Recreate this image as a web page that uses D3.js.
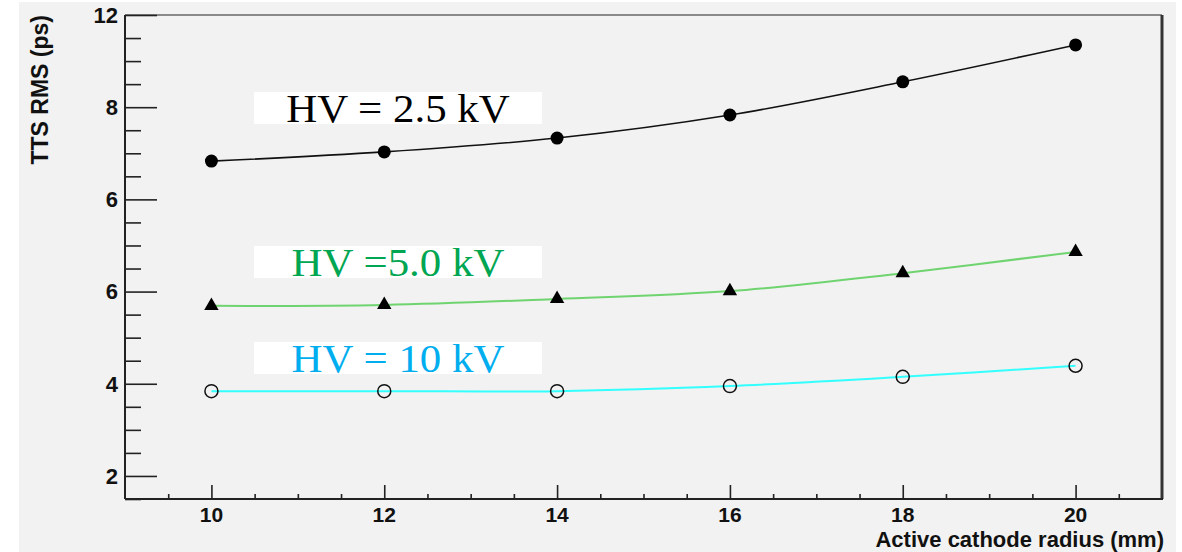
<!DOCTYPE html>
<html><head><meta charset="utf-8">
<script src="https://cdn.jsdelivr.net/npm/d3@7/dist/d3.min.js"></script>
<style>html,body{margin:0;padding:0;background:#fff;}svg{display:block;}</style>
</head><body>
<svg id="chart" width="1182" height="552"></svg>
<script>
const radius = [10, 12, 14, 16, 18, 20];
const hv25 = [8.83, 9.03, 9.33, 9.83, 10.55, 11.35];
const hv50 = [5.69, 5.71, 5.84, 6.01, 6.40, 6.86];
const hv10 = [3.84, 3.84, 3.84, 3.95, 4.15, 4.39];
const seriesNames = ["HV = 2.5 kV", "HV =5.0 kV", "HV = 10 kV"];
const xTickValues = [10, 12, 14, 16, 18, 20];
const xTickLabels = ["10", "12", "14", "16", "18", "20"];
const yTickValues = [2, 4, 6, 8, 10, 12];
const yTickLabels = ["2", "4", "6", "6", "8", "12"];
const xTitle = "Active cathode radius (mm)";
const yTitle = "TTS RMS (ps)";

const svg = d3.select("#chart");
const L = 125, R = 1162, T = 15, B = 499;
const x = d3.scaleLinear().domain([9, 21]).range([L, R]);
const y = d3.scaleLinear().domain([1.5, 12]).range([B, T]);

// background panel
svg.append("rect").attr("x", 19).attr("y", 2).attr("width", 1157).attr("height", 550).attr("fill", "#f2f2f2");

// frame
svg.append("line").attr("x1", L).attr("x2", R).attr("y1", T).attr("y2", T).attr("stroke", "#8a8a8a").attr("stroke-width", 2);
svg.append("line").attr("x1", R).attr("x2", R).attr("y1", T).attr("y2", B).attr("stroke", "#333").attr("stroke-width", 3);

const font = "'Liberation Sans', Arial, Helvetica, sans-serif";

// y axis
const yMinor = d3.range(1.5, 12.01, 0.5).filter(v => !yTickValues.includes(v));
const yAxisMinor = d3.axisRight(y).tickValues(yMinor).tickSize(16).tickFormat("");
const yAxisMajor = d3.axisRight(y).tickValues(yTickValues).tickSize(32).tickFormat("");
const gyMin = svg.append("g").attr("transform", `translate(${L},0)`).call(yAxisMinor);
const gyMaj = svg.append("g").attr("transform", `translate(${L},0)`).call(yAxisMajor);
[gyMin, gyMaj].forEach(g => {
  g.select(".domain").remove();
  g.selectAll(".tick line").attr("stroke", "#222").attr("stroke-width", 1.6);
});
svg.append("line").attr("x1", L).attr("x2", L).attr("y1", T).attr("y2", B).attr("stroke", "#222").attr("stroke-width", 2);
svg.append("g").selectAll("text").data(yTickValues).join("text")
  .attr("x", L - 7).attr("y", d => y(d)).attr("dy", "0.36em")
  .attr("text-anchor", "end").attr("font-family", font).attr("font-weight", "bold")
  .attr("font-size", 22).attr("fill", "#111")
  .text((d, i) => yTickLabels[i]);

// x axis
const xMinor = d3.range(9.5, 21, 0.5).filter(v => !xTickValues.includes(v));
const gxMin = svg.append("g").attr("transform", `translate(0,${B})`)
  .call(d3.axisTop(x).tickValues(xMinor).tickSize(5).tickFormat(""));
const gxMaj = svg.append("g").attr("transform", `translate(0,${B})`)
  .call(d3.axisTop(x).tickValues(xTickValues).tickSize(14).tickFormat(""));
[gxMin, gxMaj].forEach(g => {
  g.select(".domain").remove();
  g.selectAll(".tick line").attr("stroke", "#222").attr("stroke-width", 1.6);
});
svg.append("line").attr("x1", L).attr("x2", R + 1).attr("y1", B).attr("y2", B).attr("stroke", "#222").attr("stroke-width", 2);
svg.append("g").selectAll("text").data(xTickValues).join("text")
  .attr("x", d => x(d)).attr("y", 522)
  .attr("text-anchor", "middle").attr("font-family", font).attr("font-weight", "bold")
  .attr("font-size", 21).attr("fill", "#111")
  .text((d, i) => xTickLabels[i]);

// titles
svg.append("text").attr("x", R + 2).attr("y", 547).attr("text-anchor", "end")
  .attr("font-family", font).attr("font-weight", "bold").attr("font-size", 22).attr("fill", "#111")
  .text(xTitle);
svg.append("text").attr("transform", "translate(48,15) rotate(-90)").attr("text-anchor", "end")
  .attr("font-family", font).attr("font-weight", "bold").attr("font-size", 23).attr("fill", "#111")
  .text(yTitle);

// series
const series = [
  { name: seriesNames[0], values: hv25, line: "#111", width: 1.6, marker: "dot", text: "#000" },
  { name: seriesNames[1], values: hv50, line: "#6fd46f", width: 2, marker: "tri", text: "#00a651" },
  { name: seriesNames[2], values: hv10, line: "#33ffff", width: 2, marker: "ring", text: "#00aeef" }
];
const line = d3.line().x(d => x(d[0])).y(d => y(d[1])).curve(d3.curveCatmullRom.alpha(0.5));
series.forEach(s => {
  const pts = radius.map((r, i) => [r, s.values[i]]);
  svg.append("path").attr("d", line(pts)).attr("fill", "none")
    .attr("stroke", s.line).attr("stroke-width", s.width);
  const g = svg.append("g");
  if (s.marker === "dot") {
    g.selectAll("circle").data(pts).join("circle")
      .attr("cx", d => x(d[0])).attr("cy", d => y(d[1])).attr("r", 6.5).attr("fill", "#000");
  } else if (s.marker === "tri") {
    const tri = d3.symbol().type(d3.symbolTriangle).size(90);
    g.selectAll("path").data(pts).join("path")
      .attr("d", tri).attr("transform", d => `translate(${x(d[0])},${y(d[1])})`).attr("fill", "#000");
  } else {
    g.selectAll("circle").data(pts).join("circle")
      .attr("cx", d => x(d[0])).attr("cy", d => y(d[1])).attr("r", 6.5)
      .attr("fill", "none").attr("stroke", "#111").attr("stroke-width", 1.5);
  }
});

// annotation boxes
const boxTops = [92, 246, 342];
series.forEach((s, i) => {
  svg.append("rect").attr("x", 254).attr("y", boxTops[i]).attr("width", 288).attr("height", 32).attr("fill", "#fff");
  svg.append("text").attr("transform", `translate(398,${boxTops[i] + 30}) scale(1.1,1)`).attr("text-anchor", "middle")
    .attr("font-family", "'Liberation Serif', 'Times New Roman', serif").attr("font-size", 39)
    .attr("fill", s.text).text(s.name);
});
</script>
</body></html>
